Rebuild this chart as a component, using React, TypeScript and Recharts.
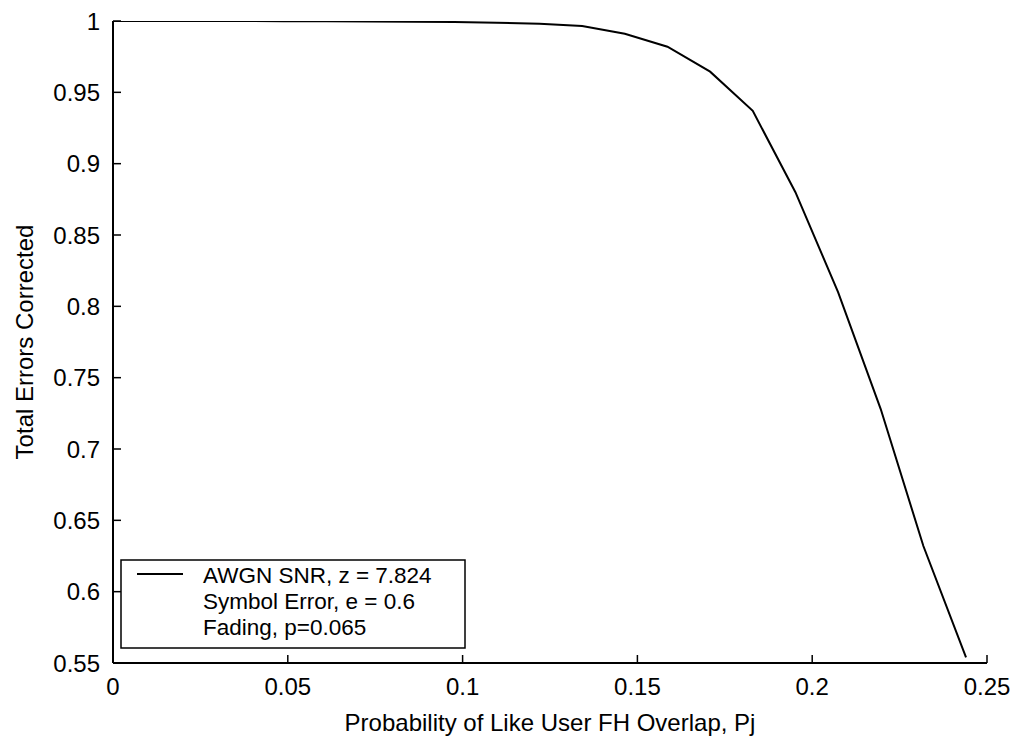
import { LineChart, Line, XAxis, YAxis, Legend, Label } from 'recharts';

// overlap probability Pj and fraction of errors corrected
const pj = [
  0, 0.0122, 0.0244, 0.0366, 0.0488, 0.061, 0.0732, 0.0854, 0.0976, 0.1098, 0.122,
  0.1342, 0.1464, 0.1586, 0.1708, 0.183, 0.1952, 0.2074, 0.2196, 0.2318, 0.244,
];
const corrected = [
  1, 1, 1, 1, 0.9999, 0.9998, 0.9997, 0.9995, 0.9993, 0.9988, 0.998,
  0.9965, 0.991, 0.982, 0.9645, 0.937, 0.88, 0.81, 0.728, 0.632, 0.554,
];

const xTicks = [0, 0.05, 0.1, 0.15, 0.2, 0.25];
const yTicks = [0.55, 0.6, 0.65, 0.7, 0.75, 0.8, 0.85, 0.9, 0.95, 1];
const legendLines = ['AWGN SNR, z = 7.824', 'Symbol Error, e = 0.6', 'Fading, p=0.065'];

const FONT = '"Liberation Sans", Arial, sans-serif';
const FS = 24;

const data = pj.map((x, i) => ({ x, y: corrected[i] }));

const fmt = (v: number) => String(Number(v.toFixed(2)));

function LegendBox() {
  return (
    <svg width={346} height={90} style={{ display: 'block' }}>
      <rect x={1} y={1} width={344} height={88} fill="#fff" stroke="#000" strokeWidth={1.5} />
      <line x1={17} x2={63} y1={15} y2={15} stroke="#000" strokeWidth={2} />
      {legendLines.map((t, i) => (
        <text key={t} x={83} y={24 + i * 26} fontFamily={FONT} fontSize={22.5} fill="#000">
          {t}
        </text>
      ))}
    </svg>
  );
}

export default function App() {
  const tickStyle = { fill: '#000', fontSize: FS, fontFamily: FONT };
  return (
    <div style={{ position: 'absolute', left: 0, top: 0, background: '#fff' }}>
      <LineChart width={1015} height={740} data={data} margin={{ top: 21, right: 28, bottom: 0, left: 0 }}>
        <XAxis
          dataKey="x"
          type="number"
          domain={[0, 0.25]}
          ticks={xTicks}
          tickFormatter={fmt}
          allowDataOverflow
          height={77}
          tickSize={-8}
          tickMargin={23}
          axisLine={{ stroke: '#000', strokeWidth: 2 }}
          tickLine={{ stroke: '#000', strokeWidth: 1.5 }}
          tick={tickStyle}
        >
          <Label
            value="Probability of Like User FH Overlap, Pj"
            position="insideBottom"
            offset={9}
            style={{ fill: '#000', fontSize: FS, fontFamily: FONT }}
          />
        </XAxis>
        <XAxis
          xAxisId="top"
          orientation="top"
          dataKey="x"
          type="number"
          domain={[0, 0.25]}
          ticks={xTicks}
          allowDataOverflow
          height={0}
          tickSize={-8}
          tick={false}
          axisLine={{ stroke: '#000', strokeWidth: 2 }}
          tickLine={{ stroke: '#000', strokeWidth: 1.5 }}
        />
        <YAxis
          type="number"
          domain={[0.55, 1]}
          ticks={yTicks}
          tickFormatter={fmt}
          allowDataOverflow
          width={113}
          tickSize={-8}
          tickMargin={21}
          axisLine={{ stroke: '#000', strokeWidth: 2 }}
          tickLine={{ stroke: '#000', strokeWidth: 1.5 }}
          tick={tickStyle}
        >
          <Label
            value="Total Errors Corrected"
            angle={-90}
            position="insideLeft"
            offset={24}
            style={{ fill: '#000', fontSize: FS, fontFamily: FONT, textAnchor: 'middle' }}
          />
        </YAxis>
        <YAxis
          yAxisId="right"
          orientation="right"
          type="number"
          domain={[0.55, 1]}
          ticks={yTicks}
          allowDataOverflow
          width={0}
          tickSize={-8}
          tick={false}
          axisLine={{ stroke: '#000', strokeWidth: 2 }}
          tickLine={{ stroke: '#000', strokeWidth: 1.5 }}
        />
        <Legend
          layout="horizontal"
          verticalAlign="middle"
          align="center"
          wrapperStyle={{ left: 120, top: 559, width: 346, height: 90 }}
          content={() => <LegendBox />}
        />
        <Line
          type="linear"
          dataKey="y"
          stroke="#000"
          strokeWidth={2}
          dot={false}
          activeDot={false}
          isAnimationActive={false}
        />
      </LineChart>
    </div>
  );
}
